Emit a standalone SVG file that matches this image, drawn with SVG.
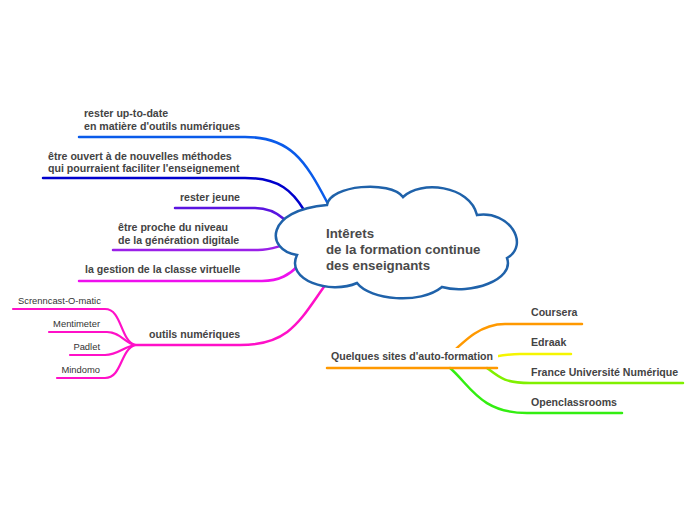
<svg xmlns="http://www.w3.org/2000/svg" width="696" height="520" viewBox="0 0 696 520">
<style>
.t{font-family:"Liberation Sans",Arial,sans-serif;font-weight:bold;font-size:10.6px;fill:#444}
.s{font-family:"Liberation Sans",Arial,sans-serif;font-size:9.4px;fill:#333}
.c{font-family:"Liberation Sans",Arial,sans-serif;font-weight:bold;font-size:13.3px;fill:#4a4a4a}
.l{fill:none;stroke-width:2.5;stroke-linecap:round}
.ls{fill:none;stroke-width:2.2;stroke-linecap:round}
</style>
<rect width="696" height="520" fill="#fff"/>
<g id="connectors">
<path class="l" stroke="#0A5BEA" d="M79,137 L245,137 C290,137 305,160 327,202"/>
<path class="l" stroke="#0000CC" d="M43,178 L245,178 C280,178 293,192 304,210"/>
<path class="l" stroke="#5A14E0" d="M175,208 L255,208 C268,208 276,212 284,219"/>
<path class="l" stroke="#9A20E8" d="M113,250 L258,250 C270,250 276,247 284,245"/>
<path class="l" stroke="#EE10EE" d="M79,281 L262,281 C280,281 290,274 298,266"/>
<path class="l" stroke="#FF10C8" d="M135,345 L240,345 C290,345 300,320 326,284"/>
<path class="ls" stroke="#FF10C8" d="M13,309 L105,309 C122,309 120,340 135,345"/>
<path class="ls" stroke="#FF10C8" d="M49,332 L107,332 C120,332 125,343 135,345"/>
<path class="ls" stroke="#FF10C8" d="M70,355 L105,355 C118,355 125,346 135,345"/>
<path class="ls" stroke="#FF10C8" d="M57,378 L105,378 C122,378 120,350 135,345"/>
<path class="l" stroke="#FF9900" d="M440,364 C465,340 480,324 505,324 L582,324"/>
<path class="l" stroke="#F5F500" d="M480,360 C495,356 505,354 520,354 L571,354"/>
<path class="l" stroke="#80F000" d="M487,368 C500,378 505,383 530,383 L683,383"/>
<path class="l" stroke="#33EE11" d="M450,368 C470,385 480,413 527,413 L622,413"/>
</g>
<g id="center">
<path d="M327,205 C330,185 390,180 403,197 C420,180 470,185 477,215 C510,210 530,245 507,258 C515,280 470,295 442,287 C420,305 370,300 357,283 C330,295 285,280 297,255 C265,250 265,210 327,205 Z" fill="#fff" stroke="#1F62AA" stroke-width="2.5"/>
<text class="c" x="326" y="238">Intêrets</text>
<text class="c" x="326" y="254">de la formation continue</text>
<text class="c" x="326" y="270">des enseignants</text>
</g>
<g id="n1"><text class="t" x="84" y="117">rester up-to-date</text><text class="t" x="84" y="130">en matière d'outils numériques</text></g>
<g id="n2"><text class="t" x="48" y="160">être ouvert à de nouvelles méthodes</text><text class="t" x="48" y="172">qui pourraient faciliter l'enseignement</text></g>
<g id="n3"><text class="t" x="240" y="201" text-anchor="end">rester jeune</text></g>
<g id="n4"><text class="t" x="118" y="231">être proche du niveau</text><text class="t" x="118" y="244">de la génération digitale</text></g>
<g id="n5"><text class="t" x="85" y="273">la gestion de la classe virtuelle</text></g>
<g id="n6"><text class="t" x="149" y="338">outils numériques</text></g>
<g id="n6a"><text class="s" x="18" y="304">Screnncast-O-matic</text></g>
<g id="n6b"><text class="s" x="100" y="327" text-anchor="end">Mentimeter</text></g>
<g id="n6c"><text class="s" x="100" y="350" text-anchor="end">Padlet</text></g>
<g id="n6d"><text class="s" x="100" y="373" text-anchor="end">Mindomo</text></g>
<g id="n7">
<rect x="327" y="348" width="171" height="18" fill="#fff"/>
<path class="l" stroke="#FF9900" d="M327,368 L497,368"/>
<text class="t" x="331" y="360">Quelques sites d'auto-formation</text>
</g>
<g id="n7a"><text class="t" x="531" y="316">Coursera</text></g>
<g id="n7b"><text class="t" x="531" y="346">Edraak</text></g>
<g id="n7c"><text class="t" x="531" y="376">France Université Numérique</text></g>
<g id="n7d"><text class="t" x="531" y="406">Openclassrooms</text></g>
</svg>
